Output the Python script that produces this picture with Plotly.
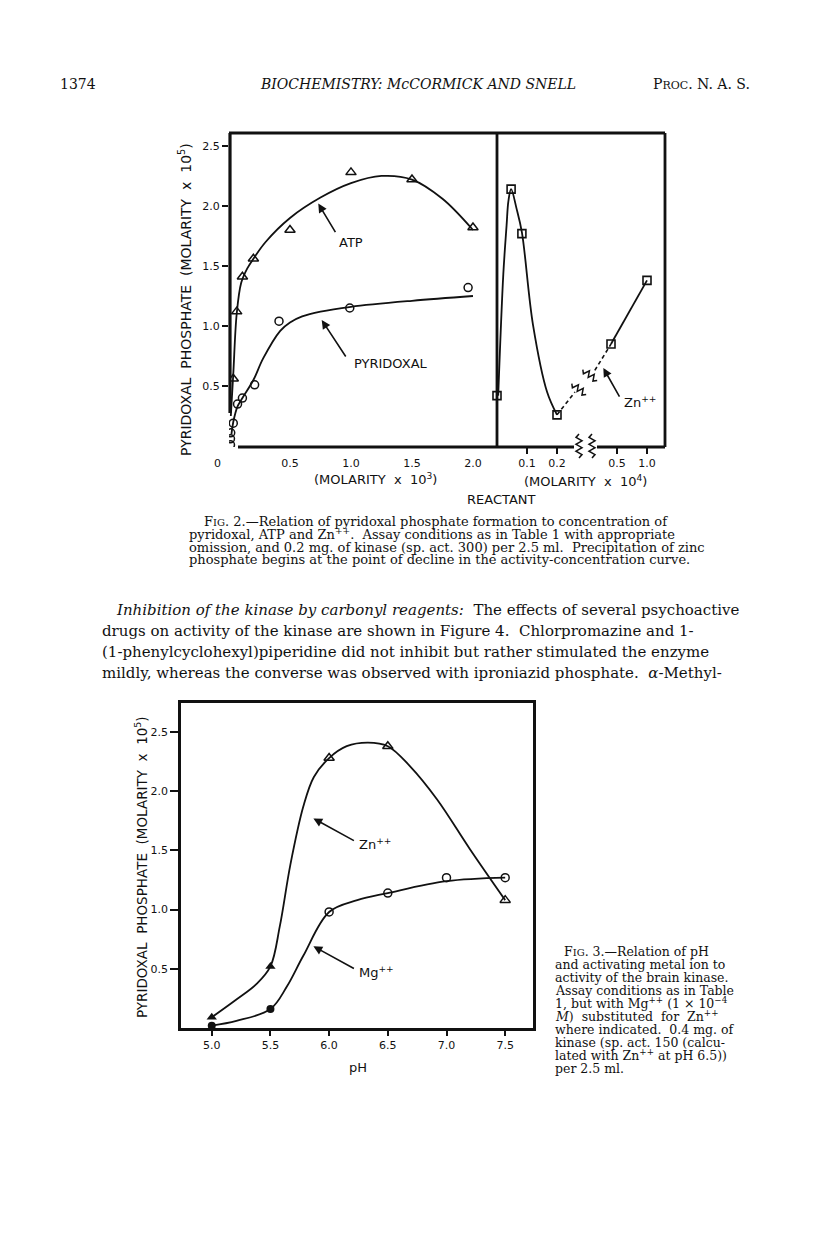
import math
import plotly.graph_objects as go

W, H = 816, 1240

# ---- Fig. 2, left panel (molarity x 10^3) ----
atp_x = [0.035, 0.063, 0.11, 0.2, 0.5, 1.0, 1.5, 2.0]
atp_y = [0.56, 1.12, 1.41, 1.56, 1.8, 2.28, 2.22, 1.82]
atp_curve_x = [0.015, 0.035, 0.063, 0.1, 0.15, 0.2, 0.3, 0.5, 0.75, 1.0, 1.25, 1.5, 1.75, 2.0]
atp_curve_y = [0.25, 0.6, 1.1, 1.36, 1.48, 1.56, 1.7, 1.9, 2.07, 2.19, 2.25, 2.22, 2.06, 1.8]

pyr_x = [0.012, 0.012, 0.014, 0.035, 0.07, 0.11, 0.21, 0.41, 0.99, 1.96]
pyr_y = [0.01, 0.06, 0.11, 0.19, 0.35, 0.40, 0.51, 1.04, 1.15, 1.32]
pyr_curve_x = [0.02, 0.035, 0.07, 0.11, 0.2, 0.28, 0.42, 0.5, 0.6, 0.75, 1.0, 1.5, 2.0]
pyr_curve_y = [0.1, 0.2, 0.33, 0.4, 0.55, 0.73, 0.96, 1.03, 1.08, 1.12, 1.16, 1.21, 1.25]

# ---- Fig. 2, right panel: Zn++ (molarity x 10^4) ----
zn_lo_x = [0.0, 0.047, 0.083, 0.2]
zn_lo_y = [0.42, 2.14, 1.77, 0.26]
zn_lo_curve_x = [0.004, 0.021, 0.032, 0.038, 0.047, 0.065, 0.083, 0.12, 0.167, 0.2]
zn_lo_curve_y = [0.42, 1.43, 1.84, 2.04, 2.14, 1.98, 1.78, 1.01, 0.45, 0.26]
zn_gap_a_x = [0.2, 0.26]
zn_gap_a_y = [0.26, 0.45]
zn_gap_b_x = [0.13, 0.4]
zn_gap_b_y = [0.63, 0.85]
zn_hi_x = [0.4, 1.0]
zn_hi_y = [0.85, 1.38]

# ---- Fig. 3 (pH) ----
ph_ticks = [5.0, 5.5, 6.0, 6.5, 7.0, 7.5]
zn_ph = [5.0, 5.5, 6.0, 6.5, 7.5]
zn_act = [0.09, 0.52, 2.28, 2.38, 1.08]
zn_ph_curve = [5.0, 5.21, 5.38, 5.5, 5.58, 5.67, 5.78, 5.87, 6.0, 6.15, 6.33, 6.5, 6.69, 6.92, 7.2, 7.5]
zn_act_curve = [0.09, 0.24, 0.37, 0.52, 0.86, 1.38, 1.87, 2.12, 2.28, 2.38, 2.41, 2.38, 2.21, 1.93, 1.51, 1.08]
mg_ph = [5.0, 5.5, 6.0, 6.5, 7.0, 7.5]
mg_act = [0.02, 0.16, 0.98, 1.14, 1.27, 1.27]
mg_ph_curve = [5.0, 5.21, 5.5, 5.64, 5.78, 6.0, 6.24, 6.5, 7.0, 7.5]
mg_act_curve = [0.02, 0.06, 0.16, 0.35, 0.61, 0.98, 1.08, 1.14, 1.24, 1.27]

act_ticks = [0.5, 1.0, 1.5, 2.0, 2.5]

OFF = 8  # the page body adds an 8px margin


def px(x):
    return (x - OFF) / W


def py(y):
    return 1 - (y - OFF) / H


SANS = "DejaVu Sans"
SERIF = "DejaVu Serif"
INK = "#111111"

fig = go.Figure()

line = dict(color=INK, width=1.8)
fig.add_trace(go.Scatter(x=atp_curve_x, y=atp_curve_y, mode="lines", line_shape="spline", line=line, xaxis="x", yaxis="y"))
fig.add_trace(go.Scatter(x=pyr_curve_x, y=pyr_curve_y, mode="lines", line_shape="spline", line=line, xaxis="x", yaxis="y"))
fig.add_trace(go.Scatter(x=atp_x, y=atp_y, mode="markers", xaxis="x", yaxis="y",
                         marker=dict(symbol="triangle-up-open", size=9, color=INK, line=dict(width=1.5, color=INK))))
fig.add_trace(go.Scatter(x=pyr_x, y=pyr_y, mode="markers", xaxis="x", yaxis="y",
                         marker=dict(symbol="circle-open", size=8, color=INK, line=dict(width=1.5, color=INK))))

fig.add_trace(go.Scatter(x=zn_lo_curve_x, y=zn_lo_curve_y, mode="lines", line_shape="spline", line=line, xaxis="x2", yaxis="y"))
fig.add_trace(go.Scatter(x=zn_gap_a_x, y=zn_gap_a_y, mode="lines", line=dict(color=INK, width=1.6, dash="4px,3px"), xaxis="x2", yaxis="y"))
fig.add_trace(go.Scatter(x=zn_gap_b_x, y=zn_gap_b_y, mode="lines", line=dict(color=INK, width=1.6, dash="4px,3px"), xaxis="x3", yaxis="y"))
fig.add_trace(go.Scatter(x=zn_hi_x, y=zn_hi_y, mode="lines", line=line, xaxis="x3", yaxis="y"))
sq = dict(symbol="square-open", size=8, color=INK, line=dict(width=1.6, color=INK))
fig.add_trace(go.Scatter(x=zn_lo_x, y=zn_lo_y, mode="markers", marker=sq, xaxis="x2", yaxis="y", cliponaxis=False))
fig.add_trace(go.Scatter(x=zn_hi_x, y=zn_hi_y, mode="markers", marker=sq, xaxis="x3", yaxis="y"))

# Fig. 3
fig.add_trace(go.Scatter(x=zn_ph_curve, y=zn_act_curve, mode="lines", line_shape="spline", line=line, xaxis="x4", yaxis="y3"))
fig.add_trace(go.Scatter(x=mg_ph_curve, y=mg_act_curve, mode="lines", line_shape="spline", line=line, xaxis="x4", yaxis="y3"))
fig.add_trace(go.Scatter(x=zn_ph[:2], y=zn_act[:2], mode="markers", xaxis="x4", yaxis="y3", cliponaxis=False,
                         marker=dict(symbol="triangle-up", size=9, color=INK)))
fig.add_trace(go.Scatter(x=zn_ph[2:], y=zn_act[2:], mode="markers", xaxis="x4", yaxis="y3",
                         marker=dict(symbol="triangle-up-open", size=9, color=INK, line=dict(width=1.5, color=INK))))
fig.add_trace(go.Scatter(x=mg_ph[:2], y=mg_act[:2], mode="markers", xaxis="x4", yaxis="y3", cliponaxis=False,
                         marker=dict(symbol="circle", size=8, color=INK)))
fig.add_trace(go.Scatter(x=mg_ph[2:], y=mg_act[2:], mode="markers", xaxis="x4", yaxis="y3",
                         marker=dict(symbol="circle-open", size=8, color=INK, line=dict(width=1.5, color=INK))))

tickfont = dict(family=SANS, size=11, color=INK)
common = dict(showgrid=False, zeroline=False, showline=False, tickfont=tickfont, tickcolor=INK, tickwidth=1.8)

fig.update_layout(
    width=W, height=H, margin=dict(l=0, r=0, t=0, b=0),
    paper_bgcolor="white", plot_bgcolor="rgba(0,0,0,0)", showlegend=False,
    xaxis=dict(domain=[px(229), px(497)], range=[0, 2.197], anchor="y",
               tickvals=[0.5, 1.0, 1.5, 2.0], ticktext=["0.5", "1.0", "1.5", "2.0"],
               ticks="", ticklabelstandoff=8, **common),
    xaxis2=dict(domain=[px(497), px(587)], range=[0, 0.3], anchor="y",
                tickvals=[0.1, 0.2], ticktext=["0.1", "0.2"], ticks="outside", ticklen=6, ticklabelstandoff=0, **common),
    xaxis3=dict(domain=[px(587), px(665)], range=[0, 1.3], anchor="y",
                tickvals=[0.5, 1.0], ticktext=["0.5", "1.0"], ticks="outside", ticklen=6, ticklabelstandoff=0, **common),
    yaxis=dict(domain=[py(447), py(133)], range=[-0.008, 2.608], anchor="x",
               tickvals=act_ticks, ticktext=["0.5", "1.0", "1.5", "2.0", "2.5"],
               ticks="outside", ticklen=6, **common),
    yaxis2=dict(overlaying="y", anchor="x", side="right", range=[-0.008, 2.608],
                tickvals=act_ticks, ticks="inside", ticklen=5, showticklabels=False,
                showgrid=False, zeroline=False, showline=False, tickcolor=INK, tickwidth=1.8),
    xaxis4=dict(domain=[px(181), px(533)], range=[4.738, 7.737], anchor="y3",
                tickvals=ph_ticks, ticktext=["5.0", "5.5", "6.0", "6.5", "7.0", "7.5"],
                ticks="outside", ticklen=5, showgrid=False, zeroline=False,
                showline=True, mirror=True, linewidth=2.5, linecolor=INK, tickfont=tickfont, tickcolor=INK, tickwidth=1.8),
    yaxis3=dict(domain=[py(1028), py(703)], range=[0, 2.745], anchor="x4",
                tickvals=act_ticks, ticktext=["0.5", "1.0", "1.5", "2.0", "2.5"],
                ticks="outside", ticklen=8, showgrid=False, zeroline=False,
                showline=True, mirror=True, linewidth=2.5, linecolor=INK, tickfont=tickfont, tickcolor=INK, tickwidth=1.8),
)

# frame of Fig. 2 (with gap at lower-left and axis break)
shapes = []


def seg(x0, y0, x1, y1, w=2.8):
    shapes.append(dict(type="line", xref="paper", yref="paper", x0=px(x0), y0=py(y0), x1=px(x1), y1=py(y1),
                       line=dict(color=INK, width=w)))


seg(229, 133, 665, 133)
seg(230, 133, 230, 413, 3.2)
seg(238, 447, 574, 447)
seg(597, 447, 665, 447)
seg(497, 133, 497, 447)
seg(665, 133, 665, 447)


def zigzag(cx, cy, dx, dy, length, amp, n):
    norm = math.hypot(dx, dy)
    ux, uy = dx / norm, dy / norm
    vx, vy = -uy, ux
    pts = []
    for i in range(n + 1):
        t = -length / 2 + length * i / n
        a = amp if i % 2 else -amp
        if i in (0, n):
            a = 0
        pts.append((cx + ux * t + vx * a, cy + uy * t + vy * a))
    d = "M " + " L ".join(f"{px(x):.5f},{py(y):.5f}" for x, y in pts)
    shapes.append(dict(type="path", xref="paper", yref="paper", path=d, line=dict(color=INK, width=1.5)))


zigzag(579, 446, 0, 1, 24, 3, 7)
zigzag(592, 446, 0, 1, 24, 3, 7)
zigzag(579, 389, 0.796, 0.605, 18, 3, 6)
zigzag(590, 375, 0.796, 0.605, 18, 3, 6)

fig.update_layout(shapes=shapes)

ann = []


def text(x, y, s, size=12, family=SANS, anchor="center", angle=0):
    ann.append(dict(x=px(x), y=py(y), xref="paper", yref="paper", text=s, showarrow=False,
                    xanchor=anchor, yanchor="middle", textangle=angle,
                    font=dict(family=family, size=size, color=INK)))


def arrow(xr, yr, x, y, ax, ay):
    ann.append(dict(x=x, y=y, xref=xr, yref=yr, ax=ax, ay=ay, text="", showarrow=True,
                    arrowhead=2, arrowsize=1.1, arrowwidth=1.6, arrowcolor=INK))


# header
text(58, 84, "1374", 14, SERIF, "left")
text(258, 84, "<i>BIOCHEMISTRY: McCORMICK AND SNELL</i>", 14, SERIF, "left")
text(752, 84, "P<span style='font-size:11px'>ROC</span>. N. A. S.", 14, SERIF, "right")

# Fig. 2 labels
text(185, 300, "PYRIDOXAL  PHOSPHATE  (MOLARITY  x  10<sup>5</sup>)", 14, SANS, angle=-90)
text(218, 463, "0", 11)
text(375, 479, "(MOLARITY  x  10<sup>3</sup>)", 13)
text(585, 481, "(MOLARITY  x  10<sup>4</sup>)", 13)
text(502, 500, "REACTANT", 13)
text(337, 242, "ATP", 13, anchor="left")
arrow("x", "y", 0.732, 2.02, 18, 30)
text(352, 363, "PYRIDOXAL", 13, anchor="left")
arrow("x", "y", 0.76, 1.05, 25, 38)
text(622, 402, "Zn<sup>++</sup>", 13, anchor="left")
arrow("x3", "y", 0.272, 0.65, 17, 30)

cap2 = [
    (202, 521, "F<span style='font-size:10px'>IG</span>. 2.—Relation of pyridoxal phosphate formation to concentration of"),
    (187, 534, "pyridoxal, ATP and Zn<sup>++</sup>.  Assay conditions as in Table 1 with appropriate"),
    (187, 547, "omission, and 0.2 mg. of kinase (sp. act. 300) per 2.5 ml.  Precipitation of zinc"),
    (187, 559, "phosphate begins at the point of decline in the activity-concentration curve."),
]
for x, y, s in cap2:
    text(x, y, s, 13, SERIF, "left")

para = [
    (114, 610, "<i>Inhibition of the kinase by carbonyl reagents:</i>  The effects of several psychoactive"),
    (100, 631, "drugs on activity of the kinase are shown in Figure 4.  Chlorpromazine and 1-"),
    (100, 652, "(1-phenylcyclohexyl)piperidine did not inhibit but rather stimulated the enzyme"),
    (100, 673, "mildly, whereas the converse was observed with iproniazid phosphate.  <i>α</i>-Methyl-"),
]
for x, y, s in para:
    text(x, y, s, 15, SERIF, "left")

# Fig. 3 labels
text(141, 867, "PYRIDOXAL  PHOSPHATE  (MOLARITY  x  10<sup>5</sup>)", 13.5, SANS, angle=-90)
text(358, 1067, "pH", 13)
text(357, 844, "Zn<sup>++</sup>", 13, anchor="left")
arrow("x4", "y3", 5.866, 1.77, 42, 23)
text(357, 972, "Mg<sup>++</sup>", 13, anchor="left")
arrow("x4", "y3", 5.866, 0.69, 42, 23)

cap3 = [
    (562, "F<span style='font-size:10px'>IG</span>. 3.—Relation of pH"),
    (553, "and activating metal ion to"),
    (553, "activity of the brain kinase."),
    (553, "Assay conditions as in Table"),
    (553, "1, but with Mg<sup>++</sup> (1 × 10<sup>−4</sup>"),
    (553, "<i>M</i>)  substituted  for  Zn<sup>++</sup>"),
    (553, "where indicated.  0.4 mg. of"),
    (553, "kinase (sp. act. 150 (calcu-"),
    (553, "lated with Zn<sup>++</sup> at pH 6.5))"),
    (553, "per 2.5 ml."),
]
for i, (x, s) in enumerate(cap3):
    text(x, 951 + 13 * i, s, 12.5, SERIF, "left")

fig.update_layout(annotations=ann)

fig.write_html("out.html")
